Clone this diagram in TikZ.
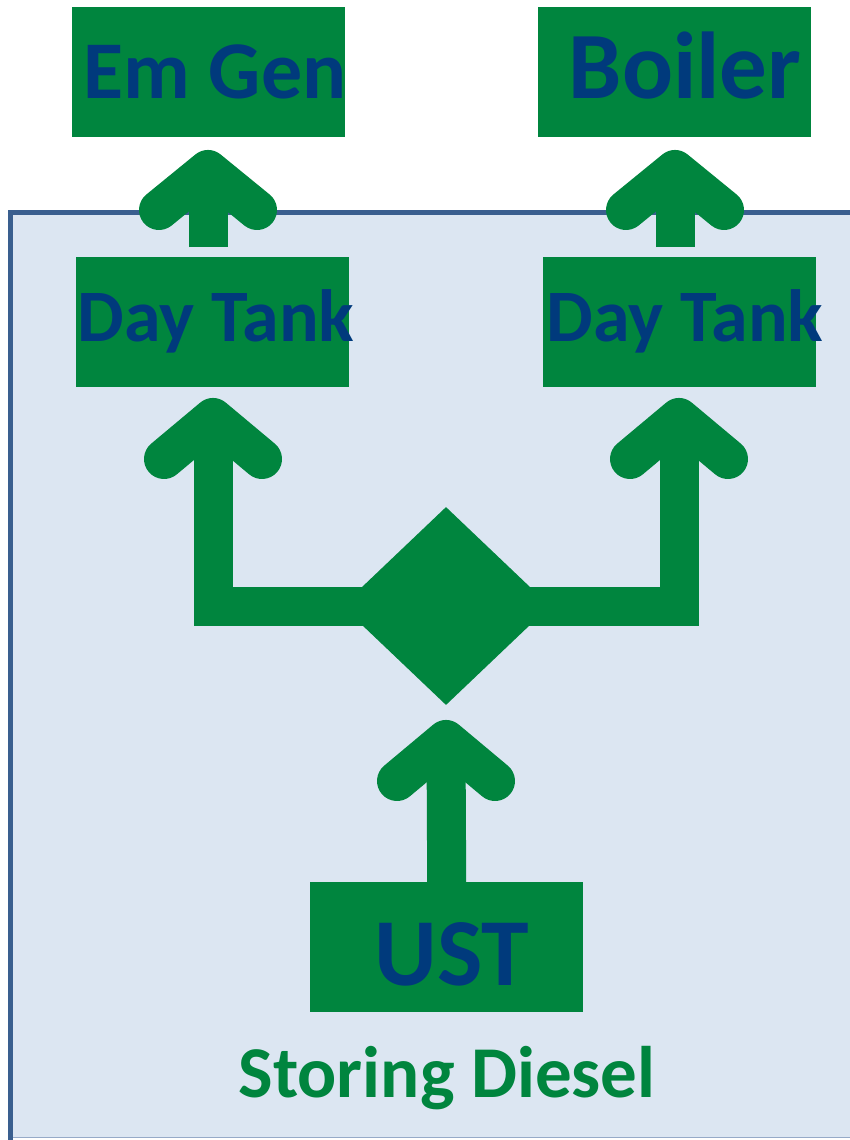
\documentclass[tikz,border=0pt]{standalone}
\usepackage{fontspec}
\usetikzlibrary{shapes.geometric}
\newfontfamily\calfont{Carlito}
\definecolor{ggreen}{RGB}{0,133,62}
\definecolor{tblue}{RGB}{0,58,124}
\definecolor{panelfill}{RGB}{220,230,242}
\definecolor{panelline}{RGB}{58,95,143}
\definecolor{panelbottom}{RGB}{150,170,200}
\tikzset{
  box/.style={fill=ggreen, draw=none, minimum width=273pt, minimum height=130pt, inner sep=0pt, anchor=north west},
  boxtext/.style={text=tblue, font=\calfont\bfseries, anchor=base, inner sep=0pt},
  shaft/.style={draw=ggreen, line width=39pt, line cap=butt, line join=miter},
  chev/.style={draw=ggreen, line width=40pt, line cap=round, line join=round},
}
\begin{document}
\begin{tikzpicture}[x=1pt,y=-1pt]
\useasboundingbox (0,0) rectangle (850,1140);
% panel
\fill[panelfill] (10,212) rectangle (852,1138);
\draw[panelbottom, line width=1.5pt] (10,1137.5) -- (852,1137.5);
\draw[panelline, line width=5pt] (10,1140) -- (10,212) -- (852,212);
% boxes
\node[box] (emgen) at (72,7) {};
\node[box] (boiler) at (538,7) {};
\node[box] (dtl) at (76,257) {};
\node[box] (dtr) at (543,257) {};
\node[box] (ust) at (310,882) {};
\node[diamond, fill=ggreen, draw=none, minimum width=208pt, minimum height=198pt, inner sep=0pt] (split) at (446,606) {};
% arrow Day Tank -> Em Gen
\coordinate (a1) at (208,170);
\draw[shaft] (dtl.north -| a1) ++(0,-10) -- (a1);
\draw[chev] (159,210) -- (a1) -- (257,210);
% arrow Day Tank -> Boiler
\coordinate (a2) at (675,170);
\draw[shaft] (dtr.north -| a2) ++(0,-10) -- (a2);
\draw[chev] (626,210) -- (a2) -- (724,210);
% branches from split
\coordinate (a3) at (213,418);
\coordinate (a4) at (679,418);
\draw[shaft] (a3) -- (a3 |- split.center) -- (a4 |- split.center) -- (a4);
\draw[chev] (164,459) -- (a3) -- (262,459);
\draw[chev] (630,459) -- (a4) -- (728,459);
% UST -> split
\coordinate (a5) at (446,740);
\draw[shaft] (ust.north) -- (a5);
\draw[chev] (397,781) -- (a5) -- (495,781);
% texts
\node[boxtext, font=\calfont\bfseries\fontsize{82}{90}\selectfont] (temgen) at (215,99) {Em Gen};
\node[boxtext, font=\calfont\bfseries\fontsize{95}{100}\selectfont] (tboiler) at (685,98) {Boiler};
\node[boxtext, font=\calfont\bfseries\fontsize{74}{80}\selectfont] (tdtl) at (216,341) {Day Tank};
\node[boxtext, font=\calfont\bfseries\fontsize{74}{80}\selectfont] (tdtr) at (685,341) {Day Tank};
\node[boxtext, font=\calfont\bfseries\fontsize{96}{100}\selectfont] (tust) at (452,985) {UST};
\node[boxtext, text=ggreen, font=\calfont\bfseries\fontsize{73}{80}\selectfont] (tstore) at (447,1097) {Storing Diesel};
\end{tikzpicture}
\end{document}
